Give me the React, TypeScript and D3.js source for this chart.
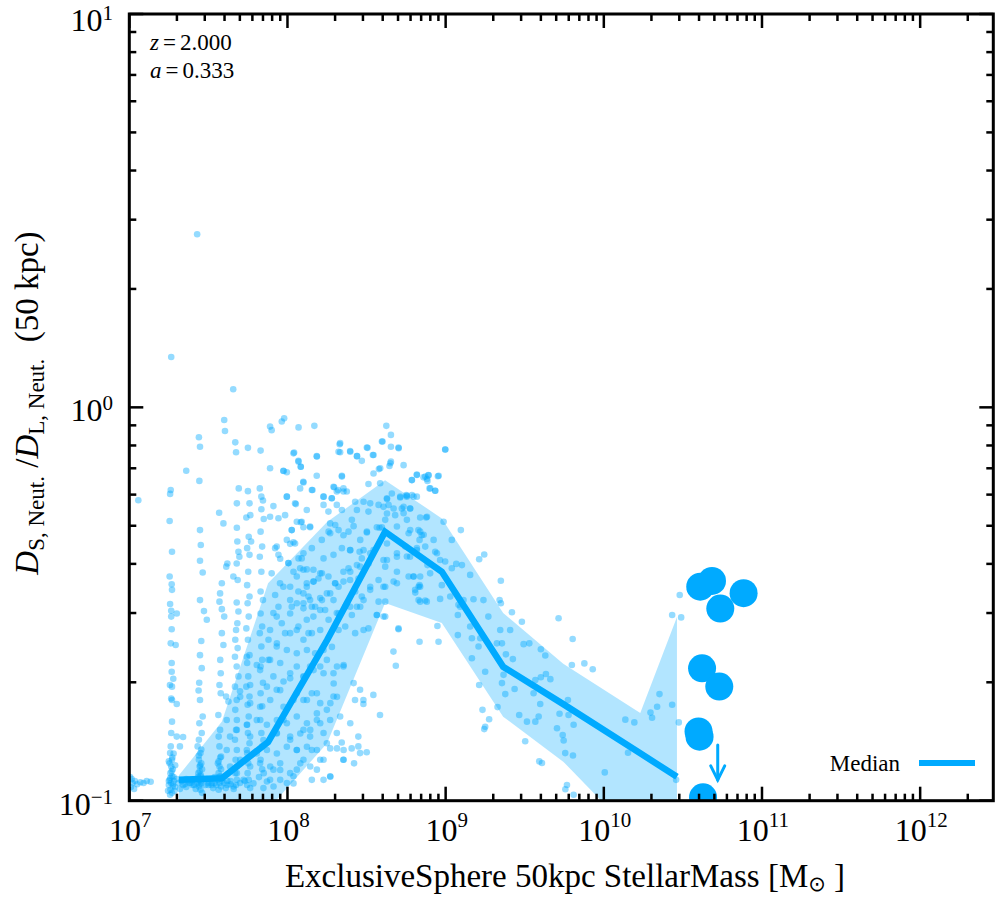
import React from "react";
import * as d3 from "d3";

// ---- data ----
const xMajor = [1e7, 1e8, 1e9, 1e10, 1e11, 1e12];
const xExp = ["7", "8", "9", "10", "11", "12"];
const yMajor = [0.1, 1, 10];
const yExp = ["\u22121", "0", "1"];

// binned statistics
const binMass = [2.06e7, 3.85e7, 7.54e7, 1.78e8, 4.14e8, 9.46e8, 2.31e9, 5.54e9, 1.7e10, 2.9e10];
const binMedian = [0.113, 0.114, 0.141, 0.256, 0.483, 0.382, 0.219, 0.176, 0.132, 0.115];
const binUpper = [0.116, 0.159, 0.357, 0.511, 0.653, 0.522, 0.3, 0.223, 0.167, 0.293];
const binLower = [0.098, 0.097, 0.095, 0.14, 0.318, 0.283, 0.1635, 0.1257, 0.079, 0.07];

// big galaxies drawn individually
const bigMass = [4.07e10, 4.83e10, 5.45e10, 7.65e10, 4.18e10, 5.37e10, 3.97e10, 4.03e10, 4.24e10];
const bigValue = [0.35, 0.362, 0.308, 0.337, 0.217, 0.195, 0.15, 0.1455, 0.102];

// upper limits
const limitMass = [5.25e10];
const limitValue = [0.1386];

// scatter: [log10 mass, log10 ratio]
const scatterLog: [number, number][] = [
  // left blob
  [7.005, -0.94], [7.02, -0.955], [7.035, -0.95], [7.05, -0.958], [7.07, -0.953], [7.09, -0.955],
  [7.11, -0.95], [7.135, -0.952], [7.01, -0.965], [7.03, -0.97], [7.015, -0.945], [7.057, -0.236],
  // column ~1.8e7
  [7.265, 0.128], [7.262, -0.21], [7.258, -0.22], [7.255, -0.289], [7.27, -0.367], [7.255, -0.43],
  [7.268, -0.45], [7.27, -0.464], [7.258, -0.5], [7.265, -0.517], [7.3, -0.524], [7.265, -0.532],
  [7.268, -0.564], [7.293, -0.604], [7.268, -0.65], [7.268, -0.672], [7.278, -0.69], [7.257, -0.706],
  [7.27, -0.71], [7.265, -0.74], [7.3, -0.754], [7.27, -0.799], [7.265, -0.828], [7.3, -0.837],
  [7.34, -0.838], [7.32, -0.862], [7.262, -0.862], [7.258, -0.879], [7.27, -0.896], [7.255, -0.905],
  [7.265, -0.913], [7.275, -0.92], [7.26, -0.93], [7.27, -0.938], [7.255, -0.947], [7.265, -0.955],
  [7.275, -0.964], [7.26, -0.972], [7.27, -0.98], [7.283, -0.95], [7.29, -0.965], [7.25, -0.96],
  [7.36, -0.161], [7.28, -0.88], [7.25, -0.9], [7.29, -0.91], [7.28, -0.94], [7.25, -0.95],
  [7.3, -0.945], [7.285, -0.975], [7.245, -0.975], [7.262, -0.6], [7.27, -0.744],
  [7.268, -0.925], [7.26, -0.942], [7.276, -0.958], [7.258, -0.985], [7.272, -0.89],
  // bottom bar
  [7.31, -0.955], [7.33, -0.95], [7.35, -0.958], [7.37, -0.95], [7.39, -0.955], [7.41, -0.96],
  [7.5, -0.955], [7.52, -0.96], [7.54, -0.955], [7.6, -0.955], [7.62, -0.95], [7.64, -0.958],
  [7.32, -0.97], [7.36, -0.945], [7.4, -0.948], [7.49, -0.945], [7.53, -0.968], [7.61, -0.968],
  // column ~2.8e7
  [7.429, 0.44], [7.44, -0.076], [7.447, -0.1], [7.443, -0.187], [7.447, -0.312], [7.452, -0.35],
  [7.447, -0.39], [7.464, -0.42], [7.447, -0.49], [7.472, -0.518], [7.49, -0.54], [7.455, -0.594],
  [7.447, -0.63], [7.458, -0.663], [7.442, -0.7], [7.438, -0.72], [7.447, -0.744], [7.464, -0.786],
  [7.443, -0.803], [7.458, -0.828], [7.44, -0.845], [7.432, -0.862], [7.45, -0.879], [7.44, -0.896],
  [7.455, -0.905], [7.445, -0.913], [7.437, -0.93], [7.45, -0.938], [7.445, -0.947], [7.455, -0.956],
  [7.44, -0.964], [7.45, -0.972], [7.46, -0.98], [7.43, -0.955], [7.47, -0.945], [7.48, -0.96],
  [7.4, -0.96], [7.38, -0.955], [7.36, -0.965], [7.34, -0.96], [7.42, -0.97],
  [7.455, -0.87], [7.44, -0.885], [7.46, -0.92], [7.445, -0.925], [7.45, -0.95], [7.435, -0.94],
  [7.448, -0.91], [7.452, -0.935], [7.442, -0.958],
  // column ~3.6e7
  [7.6, -0.032], [7.605, -0.06], [7.568, -0.268], [7.595, -0.295], [7.62, -0.397], [7.613, -0.405],
  [7.585, -0.447], [7.574, -0.473], [7.57, -0.494], [7.585, -0.513], [7.6, -0.532], [7.585, -0.574],
  [7.595, -0.604], [7.578, -0.676], [7.57, -0.706], [7.578, -0.727], [7.612, -0.735], [7.563, -0.782],
  [7.574, -0.82], [7.565, -0.837], [7.57, -0.862], [7.58, -0.888], [7.56, -0.905], [7.57, -0.913],
  [7.565, -0.93], [7.575, -0.938], [7.56, -0.947], [7.57, -0.955], [7.58, -0.964], [7.565, -0.972],
  [7.55, -0.96], [7.52, -0.955], [7.5, -0.96], [7.54, -0.94],
  [7.575, -0.89], [7.565, -0.9], [7.58, -0.92], [7.57, -0.94], [7.585, -0.95], [7.575, -0.642],
  // column ~4.7e7
  [7.657, 0.046], [7.67, -0.089], [7.675, -0.114], [7.692, -0.206], [7.68, -0.244], [7.68, -0.306],
  [7.683, -0.341], [7.69, -0.367], [7.696, -0.38], [7.679, -0.397], [7.658, -0.43], [7.685, -0.439],
  [7.679, -0.496], [7.69, -0.519], [7.683, -0.549], [7.675, -0.566], [7.67, -0.591], [7.685, -0.612],
  [7.668, -0.634], [7.679, -0.659], [7.69, -0.684], [7.668, -0.71], [7.7, -0.722], [7.679, -0.744],
  [7.67, -0.769], [7.68, -0.795], [7.675, -0.82], [7.668, -0.845], [7.68, -0.871], [7.672, -0.896],
  [7.68, -0.913], [7.67, -0.93], [7.68, -0.947], [7.675, -0.96], [7.66, -0.97], [7.7, -0.955],
  [7.64, -0.95], [7.62, -0.96],
  // column ~5.6e7
  [7.75, -0.103], [7.75, -0.213], [7.76, -0.244], [7.765, -0.274], [7.74, -0.28], [7.755, -0.329],
  [7.77, -0.341], [7.745, -0.358], [7.76, -0.375], [7.752, -0.418], [7.745, -0.452], [7.76, -0.481],
  [7.748, -0.498], [7.755, -0.532], [7.74, -0.562], [7.75, -0.591], [7.76, -0.63], [7.745, -0.65],
  [7.752, -0.684], [7.74, -0.71], [7.76, -0.735], [7.748, -0.756], [7.755, -0.786], [7.745, -0.807],
  [7.75, -0.828], [7.76, -0.854], [7.745, -0.879], [7.752, -0.905], [7.748, -0.93], [7.755, -0.947],
  [7.745, -0.96], [7.73, -0.95],
  // column ~6.7e7
  [7.83, -0.11], [7.825, -0.206], [7.835, -0.227], [7.845, -0.237], [7.835, -0.259], [7.85, -0.284],
  [7.83, -0.316], [7.84, -0.354], [7.825, -0.38], [7.835, -0.418], [7.83, -0.468], [7.845, -0.49],
  [7.83, -0.524], [7.84, -0.557], [7.825, -0.574], [7.835, -0.608], [7.84, -0.642], [7.83, -0.659],
  [7.845, -0.7], [7.83, -0.727], [7.84, -0.76], [7.828, -0.795], [7.835, -0.828], [7.84, -0.862],
  [7.83, -0.896], [7.84, -0.92], [7.82, -0.94], [7.85, -0.93],
  // lower band, 5e7 - 2e8
  [7.743, -0.634], [7.806, -0.655], [7.827, -0.668], [7.88, -0.642], [7.933, -0.6], [7.996, -0.617],
  [8.059, -0.625], [8.123, -0.617], [8.228, -0.617], [8.281, -0.609], [8.313, -0.659], [8.355, -0.655],
  [8.292, -0.702], [8.228, -0.676], [8.165, -0.668], [8.102, -0.685], [8.017, -0.689], [7.954, -0.719],
  [7.87, -0.71], [7.764, -0.706], [7.701, -0.736], [7.764, -0.752], [7.827, -0.761], [7.891, -0.744],
  [7.975, -0.761], [8.038, -0.744], [8.123, -0.744], [8.186, -0.727], [8.271, -0.752], [8.313, -0.736],
  [8.186, -0.778], [8.123, -0.803], [8.059, -0.786], [7.996, -0.803], [7.933, -0.795], [7.87, -0.807],
  [7.806, -0.795], [7.743, -0.807], [7.68, -0.82], [7.764, -0.837], [7.848, -0.846], [7.933, -0.829],
  [8.017, -0.837], [8.081, -0.829], [8.144, -0.82], [8.207, -0.803], [8.249, -0.854], [8.313, -0.867],
  [8.355, -0.871], [8.355, -0.896], [8.186, -0.871], [8.123, -0.863], [8.059, -0.871], [7.996, -0.863],
  [7.933, -0.88], [7.87, -0.871], [7.806, -0.88], [7.743, -0.871], [7.701, -0.896], [7.764, -0.913],
  [7.827, -0.905], [7.891, -0.913], [7.954, -0.922], [8.017, -0.93], [8.081, -0.905], [8.144, -0.913],
  [8.207, -0.896], [8.271, -0.939], [8.038, -0.956], [7.954, -0.947], [7.87, -0.951], [7.785, -0.956],
  [7.722, -0.947], [7.659, -0.964], [7.764, -0.968], [7.848, -0.968], [7.912, -0.964], [7.68, -0.93],
  [7.637, -0.913], [7.616, -0.871], [7.637, -0.837], [7.616, -0.795], [7.627, -0.748],
  // 1e8 - 6e8
  [7.89, -0.049], [7.9, -0.058], [7.964, -0.036], [7.979, -0.028], [8.07, -0.051], [8.17, -0.047],
  [8.038, -0.117], [8.07, -0.138], [8.084, -0.151], [8.1, -0.189], [8.158, -0.21], [8.186, -0.125],
  [7.975, -0.162], [7.996, -0.227], [8.053, -0.246], [8.228, -0.227], [8.28, -0.231], [8.295, -0.203],
  [8.32, -0.21], [8.354, -0.214], [8.33, -0.094], [8.333, -0.114], [8.344, -0.176], [8.397, -0.113],
  [8.44, -0.124], [8.47, -0.136], [8.506, -0.103], [8.544, -0.121], [8.578, -0.157], [8.601, -0.087],
  [8.625, -0.047], [8.654, -0.07], [8.703, -0.104], [8.65, -0.142], [8.66, -0.219], [8.713, -0.227],
  [8.751, -0.223], [8.629, -0.231], [8.607, -0.253], [8.629, -0.27], [8.582, -0.306],
  [8.027, -0.312], [8.059, -0.291], [8.084, -0.292], [8.143, -0.303], [7.932, -0.354], [7.954, -0.385],
  [8.017, -0.347], [8.038, -0.343], [8.006, -0.396], [8.07, -0.384], [8.101, -0.413], [8.122, -0.447],
  [8.165, -0.443], [8.218, -0.422], [8.26, -0.316], [8.302, -0.299], [8.354, -0.325], [8.397, -0.363],
  [8.456, -0.367], [8.502, -0.316], [8.513, -0.397], [8.46, -0.405], [8.397, -0.418], [8.354, -0.443],
  [8.302, -0.447], [8.27, -0.473], [8.218, -0.49], [8.175, -0.507], [8.133, -0.481], [8.101, -0.511],
  [8.059, -0.498], [8.017, -0.524], [7.964, -0.549], [7.932, -0.532], [7.89, -0.566], [7.88, -0.591],
  [7.932, -0.608], [7.985, -0.574], [8.059, -0.566], [8.101, -0.591], [8.154, -0.574], [8.207, -0.566],
  [8.26, -0.54], [8.323, -0.524], [8.376, -0.498], [8.439, -0.507], [8.481, -0.49], [8.523, -0.464],
  [8.576, -0.439], [8.618, -0.456], [8.671, -0.443], [8.629, -0.388], [8.692, -0.38], [8.745, -0.354],
  [8.692, -0.303], [8.734, -0.253], [8.766, -0.32], [8.607, -0.532], [8.565, -0.528],
  [8.354, -0.659], [8.291, -0.676], [8.249, -0.642], [8.207, -0.659], [8.175, -0.625], [8.143, -0.659],
  [8.101, -0.684], [8.059, -0.659], [8.017, -0.676], [7.975, -0.697], [7.932, -0.718], [7.911, -0.684],
  [7.89, -0.642], [7.954, -0.65], [8.059, -0.727], [8.101, -0.744], [8.154, -0.727], [8.207, -0.752],
  [8.249, -0.769], [8.291, -0.735], [8.333, -0.786], [8.397, -0.803], [8.27, -0.867], [8.228, -0.896],
  [8.186, -0.921], [8.154, -0.871], [8.101, -0.896], [8.059, -0.921], [8.038, -0.938], [7.996, -0.955],
  [7.954, -0.905], [7.911, -0.921], [7.89, -0.947], [7.932, -0.828], [7.975, -0.795], [8.017, -0.845],
  [8.059, -0.871], [8.101, -0.82], [8.143, -0.837], [8.186, -0.795], [8.228, -0.828], [8.27, -0.795],
  [8.312, -0.828], [8.154, -0.947], [8.228, -0.947], [8.27, -0.938], [8.418, -0.701],
  [8.343, -0.852], [8.353, -0.896], [8.406, -0.867], [8.448, -0.837], [8.448, -0.862], [8.459, -0.879],
  [8.501, -0.877], [8.421, -0.905], [8.427, -0.744], [8.48, -0.744], [8.48, -0.754], [8.459, -0.718],
  [8.543, -0.731], [8.585, -0.782], [8.67, -0.621], [8.685, -0.657], [8.702, -0.564],
  // upper band, 8e7 - 1e9
  [8.333, -0.091], [8.502, -0.102], [8.597, -0.087], [8.654, -0.1], [8.702, -0.102], [8.998, -0.107],
  [8.042, -0.115], [8.185, -0.124], [8.323, -0.113], [8.396, -0.111], [8.439, -0.124], [8.54, -0.121],
  [8.069, -0.136], [8.084, -0.151], [7.89, -0.155], [7.974, -0.161], [7.996, -0.165], [8.185, -0.174],
  [8.344, -0.174], [8.544, -0.168], [8.586, -0.155], [8.645, -0.149], [8.654, -0.138], [8.734, -0.147],
  [8.818, -0.171], [8.871, -0.176], [8.892, -0.173], [8.956, -0.174], [8.101, -0.191], [8.08, -0.206],
  [8.154, -0.21], [8.291, -0.202], [8.312, -0.214], [8.354, -0.206], [8.375, -0.214], [8.512, -0.195],
  [8.586, -0.193], [8.787, -0.185], [8.882, -0.182], [8.903, -0.206], [8.934, -0.212], [7.996, -0.227],
  [8.048, -0.244], [8.228, -0.227], [8.28, -0.231], [8.312, -0.248], [8.228, -0.248], [8.481, -0.24],
  [8.523, -0.244], [8.713, -0.229], [8.755, -0.225], [8.787, -0.223], [8.818, -0.227], [8.629, -0.233],
  [8.639, -0.248], [8.671, -0.257], [8.723, -0.257], [8.776, -0.257], [8.882, -0.278], [7.911, -0.251],
  [7.89, -0.278], [7.943, -0.282], [7.985, -0.274], [8.122, -0.261], [8.259, -0.265], [8.344, -0.261],
  [8.428, -0.24], [8.439, -0.261], [8.512, -0.265], [8.576, -0.248], [8.407, -0.286], [8.418, -0.302],
  [8.386, -0.316], [8.27, -0.295], [8.09, -0.291], [8.101, -0.305], [8.143, -0.305], [8.027, -0.312],
  [7.996, -0.337], [8.048, -0.346], [7.922, -0.358], [7.943, -0.375], [8.006, -0.396], [8.09, -0.384],
  [8.101, -0.371], [8.154, -0.358], [8.217, -0.337], [8.27, -0.32], [8.323, -0.312], [8.46, -0.337],
  [8.502, -0.318], [8.565, -0.305], [8.597, -0.305], [8.618, -0.286], [8.681, -0.274], [8.734, -0.269],
  [8.755, -0.286], [8.776, -0.312], [8.839, -0.316], [8.861, -0.324], [8.924, -0.337], [8.987, -0.291],
  [8.629, -0.346], [8.544, -0.363], [8.481, -0.363], [8.396, -0.363], [8.344, -0.358], [8.291, -0.375],
  [8.228, -0.384], [8.164, -0.413], [8.122, -0.412], [8.08, -0.409], [8.059, -0.43], [8.038, -0.418],
  [8.017, -0.456], [8.069, -0.468], [8.122, -0.456], [8.164, -0.443], [8.207, -0.422], [8.196, -0.435],
  [8.259, -0.43], [8.301, -0.447], [8.323, -0.456], [8.354, -0.418], [8.386, -0.409], [8.439, -0.401],
  [8.47, -0.384], [8.523, -0.371], [8.607, -0.388], [8.618, -0.405], [8.692, -0.371], [8.755, -0.379],
  [8.818, -0.363], [8.871, -0.354], [8.945, -0.371], [8.692, -0.418], [8.766, -0.43], [8.797, -0.43],
  [8.829, -0.456], [8.692, -0.447], [8.607, -0.456], [8.576, -0.494], [8.618, -0.494], [8.396, -0.439],
  [8.449, -0.435], [8.249, -0.473], [8.207, -0.485], [8.143, -0.49], [8.101, -0.473], [8.017, -0.49],
  [7.953, -0.447], [7.974, -0.456], [7.922, -0.477], [7.9, -0.422], [7.943, -0.507], [8.027, -0.507],
  [8.101, -0.498], [8.154, -0.507], [8.164, -0.532], [8.122, -0.54], [8.207, -0.515], [8.238, -0.515],
  [8.291, -0.49], [8.312, -0.523], [8.365, -0.507], [8.396, -0.507], [8.46, -0.507], [8.47, -0.481],
  [8.523, -0.456], [8.428, -0.468], [8.407, -0.528], [8.323, -0.566], [8.365, -0.557], [8.428, -0.574],
  [8.481, -0.566], [8.512, -0.562], [8.565, -0.528], [8.618, -0.532], [8.702, -0.562], [8.017, -0.574],
  [8.069, -0.557], [8.133, -0.574], [7.911, -0.523], [8.829, -0.49], [8.871, -0.491], [8.808, -0.471],
  [8.839, -0.456],
  // 6e8 and above
  [8.818, -0.172], [8.86, -0.178], [8.891, -0.172], [8.885, -0.187], [8.898, -0.206], [8.934, -0.212],
  [8.951, -0.175], [8.997, -0.107], [8.786, -0.185], [8.797, -0.227], [8.754, -0.227], [8.775, -0.257],
  [8.839, -0.28], [8.877, -0.28], [8.828, -0.312], [8.849, -0.325], [8.835, -0.337], [8.818, -0.358],
  [8.775, -0.38], [8.885, -0.401], [8.902, -0.422], [8.839, -0.43], [8.797, -0.43], [8.835, -0.452],
  [8.807, -0.464], [8.839, -0.494], [8.881, -0.494], [8.934, -0.367], [8.965, -0.388], [8.997, -0.392],
  [9.039, -0.337], [9.096, -0.312], [9.067, -0.398], [9.103, -0.401], [9.039, -0.409], [9.155, -0.426],
  [9.029, -0.481], [9.081, -0.502], [9.113, -0.49], [9.077, -0.528], [9.092, -0.507], [8.976, -0.452],
  [8.965, -0.487], [8.948, -0.556], [8.955, -0.596], [8.835, -0.596], [9.077, -0.579], [9.155, -0.557],
  [9.166, -0.587], [9.166, -0.638], [9.208, -0.608], [9.176, -0.488], [9.212, -0.386], [9.244, -0.374],
  [9.239, -0.49], [9.27, -0.532], [9.219, -0.587], [9.25, -0.672], [9.212, -0.706], [9.233, -0.769],
  [9.25, -0.812], [9.244, -0.818], [9.275, -0.793], [9.328, -0.762], [9.349, -0.441], [9.341, -0.49],
  [9.349, -0.498], [9.345, -0.566], [9.356, -0.6], [9.324, -0.6], [9.381, -0.628], [9.419, -0.521],
  [9.408, -0.566], [9.425, -0.64], [9.366, -0.68], [9.356, -0.701], [9.377, -0.729], [9.436, -0.716],
  [9.482, -0.545], [9.493, -0.602], [9.529, -0.6], [9.556, -0.727], [9.503, -0.849], [9.465, -0.782],
  [9.514, -0.799], [9.567, -0.799], [9.588, -0.786], [9.567, -0.693], [9.602, -0.686], [9.598, -0.754],
  [9.634, -0.678], [9.662, -0.691], [9.63, -0.631], [9.602, -0.615], [9.714, -0.536], [9.803, -0.589],
  [9.798, -0.655], [9.773, -0.744], [9.777, -0.782], [9.809, -0.807], [9.72, -0.779], [9.704, -0.816],
  [9.74, -0.833], [9.746, -0.847], [9.756, -0.879], [9.805, -0.885], [9.592, -0.9], [9.609, -0.904],
  [9.767, -0.96], [9.757, -0.971], [9.809, -0.985], [9.877, -0.651], [9.93, -0.666], [10.006, -0.928],
  [10.136, -0.794], [10.193, -0.801], [10.153, -0.878], [10.295, -0.776], [10.305, -0.789],
  [10.337, -0.761], [10.352, -0.729], [10.432, -0.756], [10.432, -0.528], [10.48, -0.477],
  [10.489, -0.534], [10.474, -0.801], [10.457, -0.947],
];

// ---- layout ----
const W = 996;
const H = 900;
const left = 129.3;
const right = 993.3;
const top = 14;
const bottom = 800.7;

const BLUE = "#00aaff";
const FONT = "'Liberation Serif', 'DejaVu Serif', serif";

export default function App() {
  const x = d3.scaleLog().domain([1e7, 2.9e12]).range([left, right]);
  const y = d3.scaleLog().domain([0.1, 10]).range([bottom, top]);

  const idx = d3.range(binMass.length);
  const area = d3
    .area<number>()
    .x((i) => x(binMass[i]))
    .y0((i) => y(binLower[i]))
    .y1((i) => y(binUpper[i]));
  const line = d3
    .line<number>()
    .x((i) => x(binMass[i]))
    .y((i) => y(binMedian[i]));

  const xTicks = x.ticks();
  const yTicks = y.ticks();
  const isMajor = (v: number) => Math.abs(Math.log10(v) - Math.round(Math.log10(v))) < 1e-6;

  return (
    <div style={{ position: "absolute", left: 0, top: 0 }}>
      <svg width={W} height={H} style={{ display: "block", background: "#fff" }} fontFamily={FONT}>
        <defs>
          <clipPath id="plot">
            <rect x={left} y={top} width={right - left} height={bottom - top} />
          </clipPath>
        </defs>

        <g clipPath="url(#plot)">
          <path d={area(idx) || ""} fill={BLUE} fillOpacity={0.3} />
          {scatterLog.map(([m, v], i) => (
            <circle key={i} cx={x(10 ** m)} cy={y(10 ** v)} r={3.3} fill={BLUE} fillOpacity={0.42} />
          ))}
          <path d={line(idx) || ""} fill="none" stroke={BLUE} strokeWidth={6.5} />
          {bigMass.map((m, i) => (
            <circle key={i} cx={x(m)} cy={y(bigValue[i])} r={14} fill={BLUE} />
          ))}
          {limitMass.map((m, i) => {
            const cx = x(m);
            const y0 = y(limitValue[i]);
            const y1 = y0 + 35;
            return (
              <g key={i} stroke={BLUE} strokeWidth={3} fill="none" strokeLinecap="round">
                <line x1={cx} x2={cx} y1={y0} y2={y1} />
                <polyline points={`${cx - 7},${y1 - 14} ${cx},${y1} ${cx + 7},${y1 - 14}`} />
              </g>
            );
          })}
        </g>

        {/* ticks on all four sides */}
        <g stroke="#000" strokeWidth={2.5}>
          {xTicks.map((t, i) => {
            const len = isMajor(t) ? 14 : 7;
            return (
              <g key={i}>
                <line x1={x(t)} x2={x(t)} y1={bottom} y2={bottom - len} />
                <line x1={x(t)} x2={x(t)} y1={top} y2={top + len} />
              </g>
            );
          })}
          {yTicks.map((t, i) => {
            const len = isMajor(t) ? 14 : 7;
            return (
              <g key={i}>
                <line x1={left} x2={left + len} y1={y(t)} y2={y(t)} />
                <line x1={right} x2={right - len} y1={y(t)} y2={y(t)} />
              </g>
            );
          })}
        </g>
        <rect x={left} y={top} width={right - left} height={bottom - top} fill="none" stroke="#000" strokeWidth={3} />

        {/* tick labels */}
        {xMajor.map((v, i) => (
          <text key={i} x={x(v) + 1} y={841} textAnchor="middle" fontSize={32}>
            10<tspan dy={-14} fontSize={21}>{xExp[i]}</tspan>
          </text>
        ))}
        {yMajor.map((v, i) => (
          <text key={i} x={113} y={Math.max(y(v) + 14, 31)} textAnchor="end" fontSize={32}>
            10<tspan dy={-11} fontSize={21}>{yExp[i]}</tspan>
          </text>
        ))}

        {/* redshift annotation */}
        <text x={150} y={50} fontSize={23}>
          <tspan fontStyle="italic">z</tspan>
          <tspan dx={4}>=</tspan>
          <tspan dx={4}>2.000</tspan>
        </text>
        <text x={150} y={78} fontSize={23}>
          <tspan fontStyle="italic">a</tspan>
          <tspan dx={4}>=</tspan>
          <tspan dx={4}>0.333</tspan>
        </text>

        {/* legend */}
        <text x={900} y={771} textAnchor="end" fontSize={23}>
          Median
        </text>
        <line x1={919} x2={975} y1={763} y2={763} stroke={BLUE} strokeWidth={6} />

        {/* axis titles */}
        <text x={565} y={887} textAnchor="middle" fontSize={33}>
          ExclusiveSphere 50kpc StellarMass [M<tspan fontSize={21} dy={4} fontFamily="'DejaVu Sans', sans-serif">{"\u2299"}</tspan>
          <tspan dy={-4}>{" ]"}</tspan>
        </text>
        <text
          transform="translate(38,403) rotate(-90)"
          textAnchor="middle"
          fontSize={33}
          style={{ whiteSpace: "pre" }}
        >
          <tspan fontStyle="italic">D</tspan>
          <tspan fontSize={23} dy={6}>S, Neut.</tspan>
          <tspan dy={-6}> /</tspan>
          <tspan fontStyle="italic">D</tspan>
          <tspan fontSize={23} dy={6}>L, Neut.</tspan>
          <tspan dy={-6}>{"  (50 kpc)"}</tspan>
        </text>
      </svg>
    </div>
  );
}
